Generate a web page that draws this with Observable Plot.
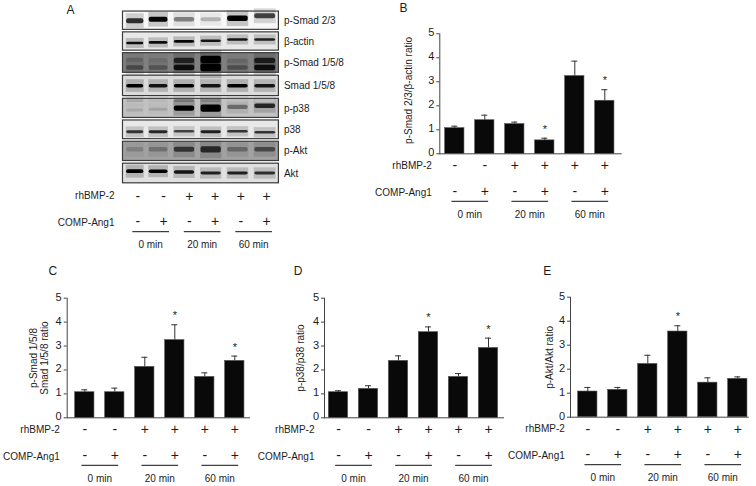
<!DOCTYPE html>
<html>
<head>
<meta charset="utf-8">
<script src="https://cdn.jsdelivr.net/npm/d3@7"></script>
<script src="https://cdn.jsdelivr.net/npm/@observablehq/plot@0.6"></script>
<style>
html,body{margin:0;padding:0;background:#fff}
#fig{position:relative;width:756px;height:486px;overflow:hidden;background:#fff}
#fig svg{position:absolute;left:0;top:0}
g[aria-label="band"]{filter:blur(1.25px)}
g[aria-label="haze"]{filter:blur(2.5px)}
</style>
</head>
<body>
<div id="fig"></div>
<script>
// ---- data ----
const rhBMP2 = ["-", "-", "+", "+", "+", "+"];
const compAng1 = ["-", "+", "-", "+", "-", "+"];
const timeGroups = ["0 min", "20 min", "60 min"];

const smad23Ratio = [1.07, 1.40, 1.24, 0.56, 3.24, 2.21];
const smad23Upper = [1.15, 1.61, 1.32, 0.65, 3.86, 2.67];
const smad23Stars = [3, 5];

const smad158Ratio = [1.07, 1.07, 2.13, 3.25, 1.71, 2.38];
const smad158Upper = [1.17, 1.24, 2.53, 3.89, 1.88, 2.58];
const smad158Stars = [3, 5];

const p38Ratio = [1.07, 1.21, 2.38, 3.58, 1.71, 2.92];
const p38Upper = [1.13, 1.34, 2.59, 3.80, 1.85, 3.33];
const p38Stars = [3, 5];

const aktRatio = [1.07, 1.14, 2.22, 3.57, 1.44, 1.60];
const aktUpper = [1.24, 1.24, 2.58, 3.81, 1.64, 1.68];
const aktStars = [3];

// blot: one row per antibody
const blotNames = ["p-Smad 2/3", "β-actin", "p-Smad 1/5/8", "Smad 1/5/8", "p-p38", "p38", "p-Akt", "Akt"];
const blotBackground = [0.03, 0.09, 0.50, 0.14, 0.24, 0.09, 0.37, 0.12];
const blotDarkness = [
  [0.82, 0.98, 0.50, 0.30, 1.00, 0.75],
  [0.95, 0.95, 0.98, 0.92, 0.92, 0.88],
  [0.72, 0.68, 0.95, 1.00, 0.70, 0.95],
  [1.00, 0.92, 1.00, 0.92, 1.00, 0.92],
  [0.34, 0.36, 1.00, 1.00, 0.58, 0.85],
  [0.80, 0.85, 0.75, 0.88, 0.80, 0.80],
  [0.50, 0.56, 0.80, 0.85, 0.60, 0.72],
  [1.00, 1.00, 0.92, 0.88, 0.88, 0.82]
];
const blotShift = [
  [0.5, -1, -1, -1, -2, -4.5],
  [2, 1.4, 0.4, -0.3, -1.6, -1.6],
  [5, 5, 5, 5, 5, 5],
  [0, 0, 0, 0, 0, 0],
  [1.8, 1, 0, 0, -1.2, -2.2],
  [2.5, 2.5, 2, 2.5, 2, 3],
  [-1.4, -1.4, -1.4, -1.4, -1.4, -1.4],
  [-1.7, -1.7, -1, 0, 0, 0]
];
const blotThickness = [
  [5, 5, 4.5, 4, 5.5, 5],
  [2.6, 2.6, 2.6, 2.6, 2.6, 2.6],
  [4, 4, 5, 7, 4, 5],
  [3.2, 3.2, 3.2, 3.2, 3.2, 3.2],
  [3, 3, 5, 7, 4, 4.2],
  [2.8, 2.8, 2.6, 2.8, 2.6, 2.6],
  [4.5, 4.5, 5, 6, 4.5, 4.5],
  [3.6, 3.2, 3.2, 2.8, 2.8, 2.8]
];
// second, fainter bands seen above the main one
const smad158UpperBandDarkness = [0.62, 0.58, 0.88, 1.00, 0.60, 0.90];
const smad158UpperBandShift = [-2, -1.5, -1.5, -2.5, -1, -1.5];
const pp38UpperBandDarkness = [0.34, 0.28, 0.55, 0.50, 0.26, 0.26];
const pp38UpperBandShift = [-7, -7, -7, -7, -7, -7];

// ---- layout ----
const W = 756, H = 486;
const FONT = '"Liberation Sans", Arial, sans-serif';
const INK = "#1c1c1c";
const fig = document.getElementById("fig");
const base = {width: W, height: H, style: {background: "transparent", fontFamily: FONT, fontSize: "10px", color: INK}};

function treatmentMarks(p) {
  const idx = d3.range(6);
  const h = 18.35 / p.step;
  const zero = () => 0;
  const common = {fontFamily: FONT, fill: INK};
  return [
    Plot.text(idx, {x: d => d, y: zero, text: d => rhBMP2[d], dy: 12, fontSize: 14, ...common}),
    Plot.text(idx, {x: d => d, y: zero, text: d => compAng1[d], dy: 37.5, fontSize: 14, ...common}),
    Plot.text(["rhBMP-2"], {y: zero, frameAnchor: "left", textAnchor: "end", dx: p.rowDx, dy: 12, fontSize: 10, ...common}),
    Plot.text(["COMP-Ang1"], {y: zero, frameAnchor: "left", textAnchor: "end", dx: p.rowDx, dy: 39, fontSize: 10, ...common}),
    Plot.link(timeGroups, {
      x1: (d, i) => 2 * i + 0.5 - h, x2: (d, i) => 2 * i + 0.5 + h,
      y1: zero, y2: zero, dy: 47.5, stroke: "#111", strokeWidth: 1
    }),
    Plot.text(timeGroups, {x: (d, i) => 2 * i + 0.5, y: zero, text: d => d, dy: 61, fontSize: 10, ...common})
  ];
}

function barPanel(p) {
  const idx = d3.range(6);
  const bw = 9.65 / p.step, cap = 3 / p.step;
  const ticks = [0, 1, 2, 3, 4, 5];
  const plot = Plot.plot({
    ...base,
    marginLeft: p.left, marginRight: W - p.right, marginTop: p.top, marginBottom: H - p.bottom,
    x: {domain: [0, 5], range: [p.first, p.first + 5 * p.step], axis: null},
    y: {domain: [0, 5], axis: null},
    marks: [
      Plot.rectY(idx, {x1: d => d - bw, x2: d => d + bw, y1: () => 0, y2: d => p.values[d], fill: "#090909", stroke: "#555", strokeWidth: 0.6}),
      Plot.ruleX(idx, {x: d => d, y1: d => p.values[d], y2: d => p.upper[d], stroke: "#333", strokeWidth: 1}),
      Plot.ruleY(idx, {x1: d => d - cap, x2: d => d + cap, y: d => p.upper[d], stroke: "#333", strokeWidth: 1}),
      Plot.frame({anchor: "left", stroke: "#444"}),
      Plot.frame({anchor: "bottom", stroke: "#444"}),
      Plot.axisY({anchor: "left", ticks, tickSize: 3, text: null, label: null, stroke: "#444"}),
      Plot.axisY({anchor: "left", ticks, tickFormat: d3.format("d"), tickSize: 0, tickPadding: 5.5, dy: -1, fontSize: 11, label: null, fill: INK, fontFamily: FONT}),
      Plot.text(p.stars, {x: d => d, y: d => p.upper[d], text: () => "*", dy: -9, fontSize: 11, fontFamily: FONT, fill: INK}),
      Plot.text([p.title], {y: () => p.titleY, frameAnchor: "left", textAnchor: "middle", dx: p.titleX - p.left, rotate: -90, fontSize: 10, fontFamily: FONT, fill: INK, lineHeight: 1.1}),
      Plot.text([p.letter], {frameAnchor: "top-left", dx: p.letterX - p.left, dy: p.letterY - p.top, fontSize: 12, fontFamily: FONT, fill: INK, lineAnchor: "middle", textAnchor: "middle"}),
      ...treatmentMarks(p)
    ]
  });
  fig.appendChild(plot);
}

// ---- panel A ----
const blotStrips = blotNames.map((name, i) => ({name, strip: i, bg: blotBackground[i]}));
const blotBands = blotNames.flatMap((name, s) => d3.range(6).flatMap(l => {
  const row = [{strip: s, lane: l, shift: blotShift[s][l], thick: blotThickness[s][l], dark: blotDarkness[s][l]}];
  if (name === "p-Smad 1/5/8") row.push({strip: s, lane: l, shift: smad158UpperBandShift[l], thick: blotThickness[s][l], dark: smad158UpperBandDarkness[l]});
  if (name === "p-p38") row.push({strip: s, lane: l, shift: pp38UpperBandShift[l], thick: 2.5, dark: pp38UpperBandDarkness[l]});
  return row;
}));
const perStrip = 21;
fig.appendChild(Plot.plot({
  ...base,
  margin: 0,
  x: {type: "linear", domain: [0, 1, 2, 3, 4, 5], range: [134.7, 157.3, 184, 210.7, 237.3, 264.7], axis: null},
  y: {type: "linear", domain: [0, 1, 2, 3, 4, 5, 6, 7], range: [20.2, 41, 61.8, 85.7, 108.2, 129.2, 150.7, 173], axis: null},
  color: {type: "linear", domain: [0, 1], range: ["#ffffff", "#000000"]},
  marks: [
    Plot.rect(blotStrips, {x1: () => -0.54, x2: () => 5.5, y1: d => d.strip - 0.44, y2: d => d.strip + 0.44, fill: d => d.bg}),
    Plot.rect(blotBands, {
      ariaLabel: "haze",
      x1: d => d.lane - 0.4, x2: d => d.lane + 0.4,
      y1: d => d.strip + (d.shift - d.thick - 2.5) / perStrip, y2: d => d.strip + (d.shift + d.thick + 2.5) / perStrip,
      fill: d => d.dark, fillOpacity: 0.2
    }),
    Plot.rect(blotBands, {
      ariaLabel: "band",
      x1: d => d.lane - 0.38, x2: d => d.lane + 0.38,
      y1: d => d.strip + (d.shift - d.thick / 2) / perStrip, y2: d => d.strip + (d.shift + d.thick / 2) / perStrip,
      fill: d => d.dark, rx: 2
    }),
    Plot.rect(blotStrips, {x1: () => -0.54, x2: () => 5.5, y1: d => d.strip - 0.44, y2: d => d.strip + 0.44, stroke: "#3a3a3a", strokeWidth: 1.2, fill: "none"}),
    Plot.text(blotStrips, {x: () => 5.5, y: d => d.strip, text: d => d.name, textAnchor: "start", dx: 5, fontSize: 10, fontFamily: FONT, fill: INK}),
    Plot.text(["A"], {frameAnchor: "top-left", dx: 70, dy: 9.3, fontSize: 12, fontFamily: FONT, fill: INK, lineAnchor: "middle", textAnchor: "middle"})
  ]
}));
// treatment table under the blot
{
  const p = {step: 25.74, rowDx: -7};
  fig.appendChild(Plot.plot({
    ...base,
    marginLeft: 121, marginRight: W - 278, marginTop: 100, marginBottom: H - 183.7,
    x: {domain: [0, 5], range: [137.3, 266], axis: null},
    y: {domain: [0, 5], axis: null},
    marks: treatmentMarks(p)
  }));
}

// ---- panels B to E ----
barPanel({letter: "B", letterX: 403, letterY: 8, title: "p-Smad 2/3/β-actin ratio", titleX: 407.7, titleY: 2.64,
  left: 439.3, right: 620.7, top: 33.3, bottom: 153.3, first: 454.3, step: 30, rowDx: -8,
  values: smad23Ratio, upper: smad23Upper, stars: smad23Stars});
barPanel({letter: "C", letterX: 52.3, letterY: 270.3, title: "p-Smad 1/5/8\nSmad 1/5/8 ratio", titleX: 38.8, titleY: 2.5,
  left: 66.7, right: 249, top: 297.7, bottom: 417.3, first: 84.3, step: 30, rowDx: -7.4,
  values: smad158Ratio, upper: smad158Upper, stars: smad158Stars});
barPanel({letter: "D", letterX: 297.7, letterY: 270.3, title: "p-p38/p38 ratio", titleX: 300, titleY: 2.5,
  left: 324, right: 503, top: 297.7, bottom: 417.3, first: 338, step: 30, rowDx: -10,
  values: p38Ratio, upper: p38Upper, stars: p38Stars});
barPanel({letter: "E", letterX: 546.7, letterY: 270.3, title: "p-Akt/Akt ratio", titleX: 549.3, titleY: 2.49,
  left: 570, right: 747.7, top: 296.7, bottom: 416.7, first: 587.3, step: 30, rowDx: -5.7,
  values: aktRatio, upper: aktUpper, stars: aktStars});
</script>
</body>
</html>
